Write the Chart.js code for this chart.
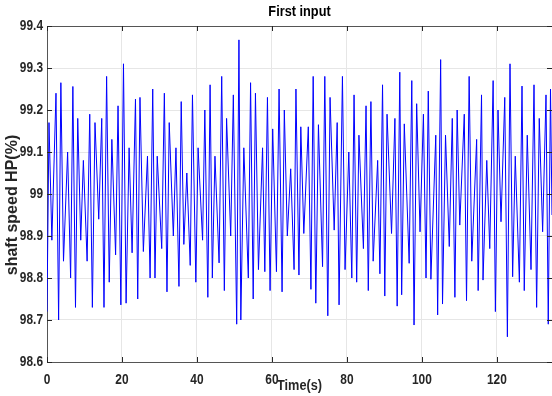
<!DOCTYPE html>
<html>
<head>
<meta charset="utf-8">
<script src="https://cdn.jsdelivr.net/npm/chart.js@4/dist/chart.umd.min.js"></script>
<style>
html,body{margin:0;padding:0;background:#fff;overflow:hidden;}
#wrap{position:relative;width:552px;height:396px;}
</style>
</head>
<body>
<div id="wrap"><canvas id="c" width="552" height="396"></canvas></div>
<script>
// ---- data ----
const chartTitle = 'First input';
const xTitle = 'Time(s)';
const yTitle = 'shaft speed HP(%)';

const timeS = [0,0.53,1.3,2.4,3.1,3.7,4.4,5.5,6.3,6.9,
7.6,8.2,9.0,9.7,10.7,11.4,12.1,12.8,13.8,14.6,
15.2,15.9,16.6,17.3,18.3,18.95,19.7,20.4,21.1,21.9,
22.7,23.6,24.2,24.8,25.7,26.8,27.5,28.2,28.8,29.4,
30.6,31.3,32.0,32.6,33.7,34.4,35.2,35.8,36.5,37.3,
38.2,38.8,39.7,40.3,41.5,42.1,42.9,43.5,44.1,44.8,
45.9,46.6,47.3,47.9,49.0,49.7,50.6,51.2,51.7,52.5,
53.7,54.3,55.0,55.6,56.4,57.5,58.1,58.8,59.5,60.2,
61.2,61.9,62.7,63.3,64.1,65.0,65.9,66.4,67.2,67.7,
68.5,69.7,70.4,71.0,71.7,72.4,73.5,74.1,74.9,75.5,
76.6,77.4,77.9,78.8,79.5,80.5,81.3,81.9,82.6,83.2,
84.4,85.1,85.7,86.4,87.0,88.2,88.8,89.5,90.1,90.7,
91.9,92.8,93.4,94.1,94.6,95.3,96.6,97.3,97.9,98.6,
99.5,100.4,101.1,101.7,102.4,103.7,104.2,105.0,105.5,106.3,
107.3,108.1,108.8,109.4,110.1,111.3,111.9,112.6,113.3,114.6,
115.0,115.9,116.3,117.3,118.1,119.0,119.6,120.3,121.1,122.1,
122.8,123.5,124.2,124.9,126.0,126.7,127.3,128.1,129.1,129.9,
130.6,131.3,132.2,133.1,133.7,134.3,134.7];

const shaftSpeed = [98.72,99.17,98.89,99.24,98.70,99.265,98.84,99.10,98.80,99.256,
98.73,99.18,98.89,99.08,98.84,99.19,98.73,99.17,98.94,99.18,
98.73,99.28,98.79,99.13,98.855,99.21,98.736,99.31,98.74,99.11,
98.86,99.226,98.75,99.23,98.863,99.09,98.80,99.25,98.80,99.09,
98.87,99.24,98.767,99.17,98.90,99.11,98.78,99.22,98.88,99.05,
98.83,99.236,98.79,99.11,98.89,99.20,98.754,99.26,98.80,99.09,
98.836,99.28,98.77,99.18,98.90,99.236,98.69,99.367,98.70,99.11,
98.80,99.265,98.75,99.24,98.82,99.11,98.815,99.23,98.77,99.155,
98.815,99.25,98.767,99.20,98.90,99.06,98.82,99.25,98.807,99.16,
98.906,99.16,98.773,99.28,98.74,99.165,98.827,99.28,98.71,99.23,
98.914,99.17,98.736,99.28,98.82,99.10,98.80,99.236,98.79,99.14,
98.87,99.21,98.77,99.22,98.84,99.08,98.81,99.26,98.757,99.19,
98.906,99.18,98.733,99.29,98.76,99.167,98.835,99.27,98.688,99.215,
98.91,99.19,98.80,99.245,98.797,99.14,98.712,99.32,98.738,99.14,
98.875,99.18,98.754,99.20,98.926,99.19,98.746,99.28,98.84,99.13,
98.77,99.236,98.795,99.08,98.87,99.27,98.72,99.20,98.934,99.23,
98.66,99.31,98.803,99.09,98.79,99.257,98.77,99.14,98.82,99.26,
98.73,99.18,98.91,99.236,98.69,99.25,98.95];

const xTicks = [0,20,40,60,80,100,120];
const yTicks = [98.6,98.7,98.8,98.9,99,99.1,99.2,99.3,99.4];
const xRange = [0,134.7];
const yRange = [98.6,99.4];

// ---- chart ----
const FONT = "'Liberation Sans',Arial,Helvetica,sans-serif";
const TXT = '#262626';
const NARROW = 0.85;
const points = timeS.map((t,i)=>({x:t,y:shaftSpeed[i]}));

// narrow (condensed) rendering of tick labels and titles, like the reference's narrow font
const narrowPlugin = {
  id:'narrow',
  beforeDraw(chart){
    const ctx = chart.ctx;
    if (ctx._narrowed) return;
    const orig = CanvasRenderingContext2D.prototype.fillText;
    ctx.fillText = function(t,x,y,mw){
      if (this._noNarrow) { orig.call(this,t,x,y); return; }
      this.save();
      this.translate(x,y);
      this.scale(NARROW,1);
      orig.call(this,t,0,0);
      this.restore();
    };
    ctx._narrowed = true;
  }
};

const boxPlugin = {
  id:'box',
  afterDraw(chart){
    const {ctx, chartArea:a, scales} = chart;
    ctx.save();
    ctx.strokeStyle = '#555';
    ctx.lineWidth = 1;
    ctx.beginPath();
    ctx.moveTo(a.left, a.top+0.5); ctx.lineTo(a.right, a.top+0.5);
    ctx.stroke();
    ctx.strokeStyle = '#262626';
    const L = 5;
    ctx.beginPath();
    xTicks.forEach(v=>{
      const px = Math.round(scales.x.getPixelForValue(v))+0.5;
      ctx.moveTo(px,a.bottom); ctx.lineTo(px,a.bottom-L);
      ctx.moveTo(px,a.top); ctx.lineTo(px,a.top+L);
    });
    yTicks.forEach(v=>{
      const py = Math.round(scales.y.getPixelForValue(v))+0.5;
      ctx.moveTo(a.left,py); ctx.lineTo(a.left+L,py);
      ctx.moveTo(a.right,py); ctx.lineTo(a.right-L,py);
    });
    ctx.stroke();
    // y axis title (rotated), placed as in the reference
    ctx.fillStyle = TXT;
    ctx.font = "bold 16px " + FONT;
    ctx.textAlign = 'center';
    ctx.textBaseline = 'middle';
    ctx.translate(13, (a.top + a.bottom)/2 + 11);
    ctx.rotate(-Math.PI/2);
    ctx._noNarrow = true;
    ctx.fillText(yTitle, 0, 0);
    ctx._noNarrow = false;
    ctx.restore();
  }
};

new Chart(document.getElementById('c'), {
  type:'line',
  data:{datasets:[{
    label:'shaft speed HP',
    data:points,
    borderColor:'#0000ff',
    borderWidth:1,
    pointRadius:0,
    tension:0,
    fill:false
  }]},
  options:{
    responsive:false,
    animation:false,
    events:[],
    layout:{padding:{left:0,right:0,top:0,bottom:0}},
    plugins:{legend:{display:false},tooltip:{enabled:false},title:{display:false}},
    scales:{
      x:{
        type:'linear', min:xRange[0], max:xRange[1],
        afterBuildTicks(s){ s.ticks = xTicks.map(v=>({value:v})); },
        afterFit(s){ s.height = 34; },
        ticks:{color:TXT, font:{family:FONT, size:14, weight:'bold'}, padding:10, maxRotation:0, autoSkip:false,
               callback:(v)=>String(v)},
        grid:{color:'#e6e6e6', lineWidth:1, drawTicks:false},
        border:{color:'#555', width:1},
        title:{display:true, text:xTitle, color:TXT, font:{family:FONT, size:15, weight:'bold'}, padding:{top:0,bottom:1}}
      },
      xTop:{
        type:'linear', position:'top', min:xRange[0], max:xRange[1],
        afterFit(s){ s.height = 26; },
        ticks:{display:false},
        grid:{display:false, drawTicks:false},
        border:{display:false},
        title:{display:true, text:chartTitle, color:'#000', font:{family:FONT, size:15, weight:'bold'}, padding:{top:3,bottom:0}}
      },
      y:{
        type:'linear', min:yRange[0], max:yRange[1],
        afterBuildTicks(s){ s.ticks = yTicks.map(v=>({value:v})); },
        afterFit(s){ s.width = 47; },
        ticks:{color:TXT, font:{family:FONT, size:14, weight:'bold'}, padding:4, autoSkip:false,
               callback:(v)=>String(Number(v.toFixed(1)))},
        grid:{color:'#e6e6e6', lineWidth:1, drawTicks:false},
        border:{color:'#555', width:1},
        title:{display:false}
      }
    }
  },
  plugins:[narrowPlugin, boxPlugin]
});
</script>
</body>
</html>
